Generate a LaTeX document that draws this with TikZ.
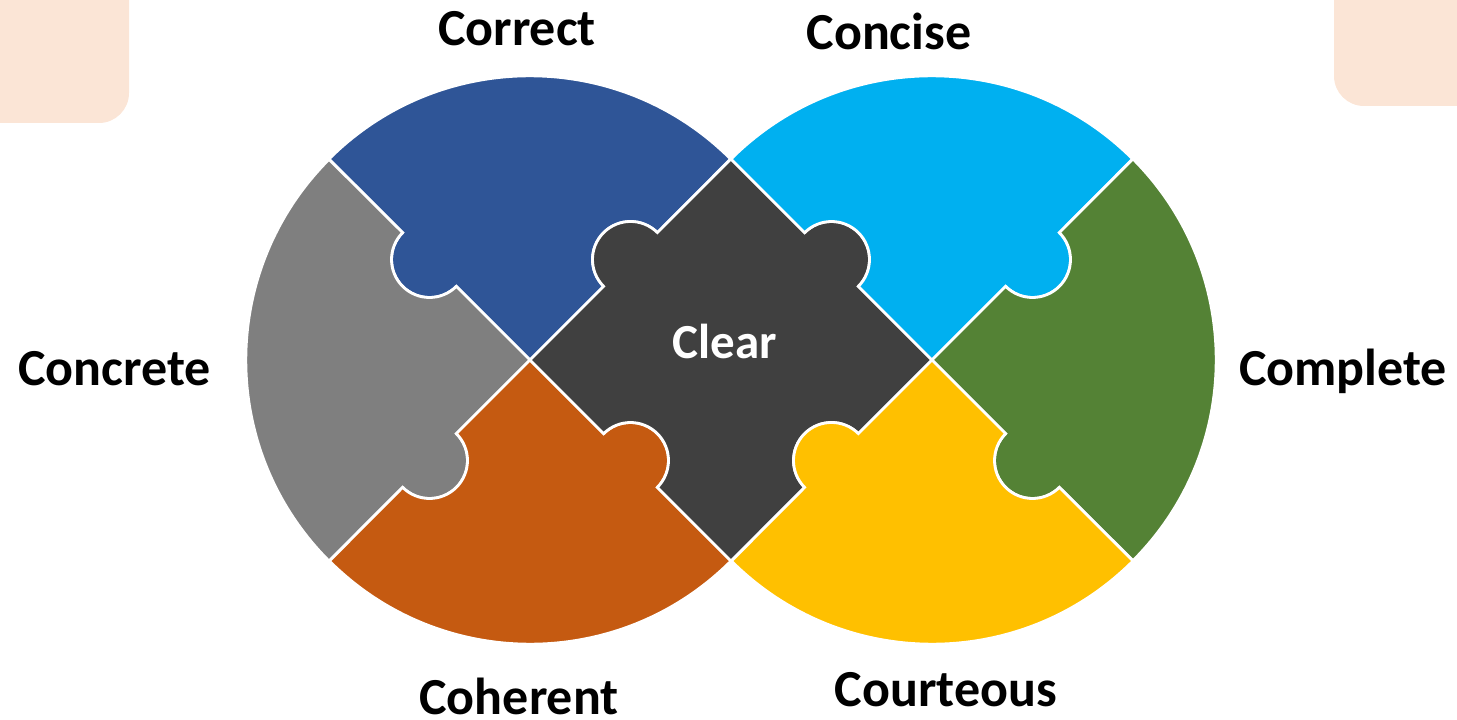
\documentclass[tikz,border=0pt]{standalone}
\usepackage{fontspec}
\setmainfont{Carlito}
\usetikzlibrary{calc}
\definecolor{cblue}{HTML}{2F5597}
\definecolor{cgray}{HTML}{7F7F7F}
\definecolor{corange}{HTML}{C55A11}
\definecolor{cdark}{HTML}{404040}
\definecolor{ccyan}{HTML}{00B0F0}
\definecolor{cgreen}{HTML}{548235}
\definecolor{cyellow}{HTML}{FFC000}
\definecolor{cpeach}{HTML}{FBE5D6}
\begin{document}
\begin{tikzpicture}[x=0.5pt,y=0.5pt,
  piece/.style={draw=white,line width=1.4pt,line join=miter},
  lbl/.style={font=\fontsize{26}{30}\selectfont\bfseries,anchor=base,inner sep=0pt}]
\useasboundingbox (0,0) rectangle (1457,719);
\clip (0,0) rectangle (1457,719);
\fill[cpeach,rounded corners=15pt] (-100,596) rectangle (129,819);
\fill[cpeach,rounded corners=15pt] (1334,613) rectangle (1557,819);
\def\r{38}
\def\R{284}
\coordinate (Lc) at (530,359);
\coordinate (Rc) at (932,359);
\coordinate (A) at (731,560);
\coordinate (B) at (731,158);
\coordinate (Pul) at (329,560);
\coordinate (Pll) at (329,158);
\coordinate (Pur) at (1133,560);
\coordinate (Plr) at (1133,158);
\coordinate (M1) at (429.5,459.5);
\coordinate (M2) at (630.5,459.5);
\coordinate (M3) at (831.5,459.5);
\coordinate (M4) at (1032.5,459.5);
\coordinate (M5) at (1032.5,258.5);
\coordinate (M6) at (831.5,258.5);
\coordinate (M7) at (630.5,258.5);
\coordinate (M8) at (429.5,258.5);
% Correct
\path[piece,fill=cblue] (Lc) -- ($(M1)+(315:\r)$) arc[start angle=315,end angle=135,radius=\r] -- (Pul) arc[start angle=135,end angle=45,radius=\R] -- ($(M2)+(45:\r)$) arc[start angle=45,end angle=225,radius=\r] -- cycle;
% Concrete
\path[piece,fill=cgray] (Lc) -- ($(M8)+(45:\r)$) arc[start angle=405,end angle=225,radius=\r] -- (Pll) arc[start angle=225,end angle=135,radius=\R] -- ($(M1)+(135:\r)$) arc[start angle=135,end angle=315,radius=\r] -- cycle;
% Coherent
\path[piece,fill=corange] (Lc) -- ($(M7)+(135:\r)$) arc[start angle=135,end angle=-45,radius=\r] -- (B) arc[start angle=-45,end angle=-135,radius=\R] -- ($(M8)+(225:\r)$) arc[start angle=225,end angle=405,radius=\r] -- cycle;
% Clear
\path[piece,fill=cdark] (Lc) -- ($(M2)+(225:\r)$) arc[start angle=225,end angle=45,radius=\r] -- (A) -- ($(M3)+(135:\r)$) arc[start angle=135,end angle=-45,radius=\r] -- (Rc) -- ($(M6)+(45:\r)$) arc[start angle=45,end angle=225,radius=\r] -- (B) -- ($(M7)+(315:\r)$) arc[start angle=315,end angle=495,radius=\r] -- cycle;
% Concise
\path[piece,fill=ccyan] (Rc) -- ($(M3)+(315:\r)$) arc[start angle=315,end angle=495,radius=\r] -- (A) arc[start angle=135,end angle=45,radius=\R] -- ($(M4)+(45:\r)$) arc[start angle=45,end angle=-135,radius=\r] -- cycle;
% Complete
\path[piece,fill=cgreen] (Rc) -- ($(M4)+(225:\r)$) arc[start angle=225,end angle=405,radius=\r] -- (Pur) arc[start angle=45,end angle=-45,radius=\R] -- ($(M5)+(315:\r)$) arc[start angle=315,end angle=135,radius=\r] -- cycle;
% Courteous
\path[piece,fill=cyellow] (Rc) -- ($(M5)+(135:\r)$) arc[start angle=135,end angle=315,radius=\r] -- (Plr) arc[start angle=-45,end angle=-135,radius=\R] -- ($(M6)+(225:\r)$) arc[start angle=225,end angle=45,radius=\r] -- cycle;
% labels
\node[lbl] (tCorrect) at (517,673) {Correct};
\node[lbl] (tConcise) at (889,669) {Concise};
\node[lbl] (tConcrete) at (114.5,334) {Concrete};
\node[lbl] (tComplete) at (1343,334) {Complete};
\node[lbl] (tCoherent) at (519,5) {Coherent};
\node[lbl] (tCourteous) at (946,13) {Courteous};
\node[lbl,text=white,font=\fontsize{24.5}{28}\selectfont\bfseries] (tClear) at (724.5,361) {Clear};
\end{tikzpicture}
\end{document}
